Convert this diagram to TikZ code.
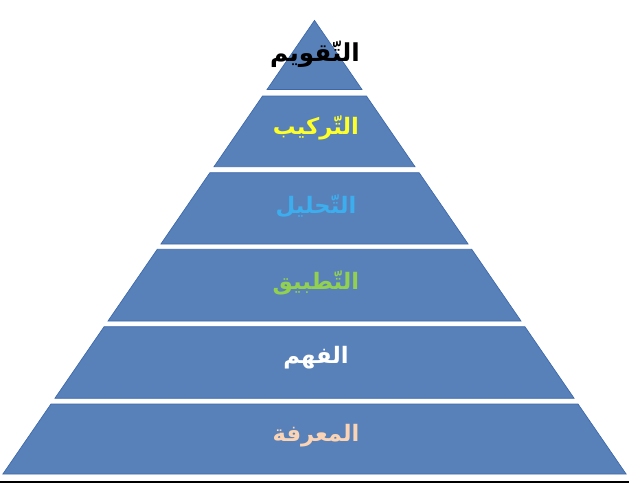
\documentclass[tikz,border=0pt]{standalone}
\usepackage{fontspec}
\newfontfamily\arabicfont[Script=Arabic]{DejaVu Sans}
\TeXXeTstate=1
\definecolor{layerblue}{RGB}{88,129,186}
\definecolor{layeredge}{RGB}{60,104,170}
\definecolor{lblyellow}{RGB}{255,255,40}
\definecolor{lblblue}{RGB}{60,174,238}
\definecolor{lblgreen}{RGB}{146,208,80}
\definecolor{lblpeach}{RGB}{250,212,180}

\begin{document}
\begin{tikzpicture}[x=0.75pt,y=-0.75pt]
  \tikzset{
    layer/.style={fill=layerblue, draw=layeredge, line width=0.5pt},
    lbl/.style={draw=none, fill=none, inner sep=0pt, anchor=center,
      font=\arabicfont\bfseries\fontsize{17}{20}\selectfont}
  }
  \useasboundingbox (0,0) rectangle (640,501);

  % apex of the pyramid
  \coordinate (apex) at (314.5,20.4);

  % — layers, top to bottom —
  \foreach \i/\yt/\yb in {1/20.4/89.5, 2/96/166.7, 3/172.7/244, 4/249.3/321, 5/326.7/398.3, 6/404/474} {
    \pgfmathsetmacro{\wt}{0.687*(\yt-20.4)}
    \pgfmathsetmacro{\wb}{0.687*(\yb-20.4)}
    \draw[layer] (314.5-\wt,\yt) coordinate (t\i) -- (314.5+\wt,\yt)
      -- (314.5+\wb,\yb) -- (314.5-\wb,\yb) coordinate (b\i) -- cycle;
  }

  % — labels —
  \node[lbl, text=black, font=\arabicfont\bfseries\fontsize{18.5}{21}\selectfont] (lbl1) at (315,54) {\beginR التّقويم\endR};
  \foreach \i/\y/\col/\txt in {2/128/lblyellow/التّركيب, 3/206/lblblue/التّحليل, 4/283/lblgreen/التّطبيق, 5/358/white/الفهم, 6/436/lblpeach/المعرفة} {
    \node[lbl, text=\col] (lbl\i) at (316,\y) {\beginR\txt\endR};
  }

  % base rule
  \draw[black, line width=1.6pt] (0,482) -- (629,482);
\end{tikzpicture}
\end{document}
